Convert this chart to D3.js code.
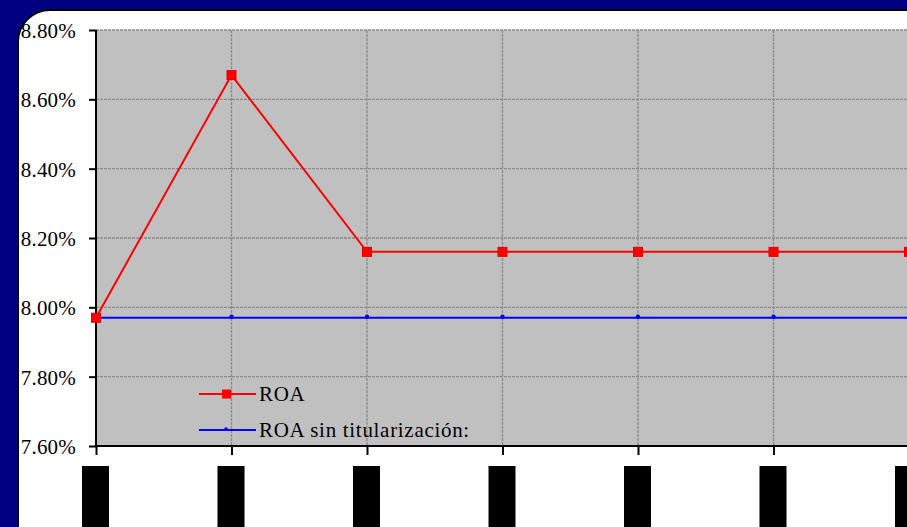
<!DOCTYPE html>
<html>
<head>
<meta charset="utf-8">
<script src="https://cdn.jsdelivr.net/npm/d3@7"></script>
<style>
  html, body { margin: 0; padding: 0; background: #000080; }
  svg { display: block; }
</style>
</head>
<body>
<svg id="chart" width="907" height="527"></svg>
<script>
// Periods along the horizontal axis (labels are drawn as solid blocks)
const periods = ["P1", "P2", "P3", "P4", "P5", "P6", "P7"];
// Return on assets, in percent
const roa = [7.97, 8.67, 8.16, 8.16, 8.16, 8.16, 8.16];
const roaSinTitularizacion = [7.97, 7.97, 7.97, 7.97, 7.97, 7.97, 7.97];
const yTicks = [7.60, 7.80, 8.00, 8.20, 8.40, 8.60, 8.80];
const seriesNames = ["ROA", "ROA sin titularización:"];

const svg = d3.select("#chart");
const W = 907, H = 527;
const serif = "'Liberation Serif', 'Times New Roman', serif";

// background panel
svg.append("rect").attr("width", W).attr("height", H).attr("fill", "#000080");
svg.append("rect")
  .attr("x", 18).attr("y", 10).attr("width", 930).attr("height", 560)
  .attr("rx", 32).attr("ry", 32)
  .attr("fill", "#ffffff").attr("stroke", "#000").attr("stroke-width", 2);

const plot = { left: 96, top: 30, right: 909, bottom: 446 };

const x = d3.scalePoint().domain(periods).range([plot.left, plot.right]).padding(0);
const y = d3.scaleLinear().domain([7.6, 8.8]).range([plot.bottom, plot.top]);

// plot area
svg.append("rect")
  .attr("x", plot.left).attr("y", plot.top)
  .attr("width", plot.right - plot.left + 20).attr("height", plot.bottom - plot.top)
  .attr("fill", "#c0c0c0");

// horizontal grid
svg.append("g").selectAll("line").data(yTicks.slice(1)).join("line")
  .attr("x1", plot.left).attr("x2", W)
  .attr("y1", d => y(d)).attr("y2", d => y(d))
  .attr("stroke", "#8a8a8a").attr("stroke-width", 1.3)
  .attr("stroke-dasharray", "3,1");

// vertical grid
svg.append("g").selectAll("line").data(periods.slice(1)).join("line")
  .attr("x1", d => x(d)).attr("x2", d => x(d))
  .attr("y1", plot.top).attr("y2", plot.bottom)
  .attr("stroke", "#8a8a8a").attr("stroke-width", 1.3)
  .attr("stroke-dasharray", "3,1");

// y axis
const yAxis = d3.axisLeft(y).tickValues(yTicks)
  .tickFormat(d => d.toFixed(2) + "%").tickSize(7).tickPadding(13);
const gy = svg.append("g").attr("transform", `translate(${plot.left},0)`).call(yAxis);
gy.select(".domain").attr("stroke", "#000").attr("stroke-width", 2)
  .attr("d", `M0,${plot.top}V${plot.bottom + 1}`);
gy.selectAll(".tick line").attr("stroke", "#000").attr("stroke-width", 2);
gy.selectAll(".tick text")
  .attr("font-family", serif)
  .attr("font-size", 21).attr("letter-spacing", 0.2)
  .attr("fill", "#000").attr("dy", "0.35em");

// x axis
const xAxis = d3.axisBottom(x).tickSize(9).tickFormat("");
const gx = svg.append("g").attr("transform", `translate(0,${plot.bottom})`).call(xAxis);
gx.select(".domain").attr("stroke", "#000").attr("stroke-width", 2)
  .attr("d", `M${plot.left},0H${W}`);
gx.selectAll(".tick line").attr("stroke", "#000").attr("stroke-width", 2);

// category label blocks
svg.append("g").selectAll("rect").data(periods).join("rect")
  .attr("x", d => x(d) - 14).attr("y", 466)
  .attr("width", 27).attr("height", 62)
  .attr("fill", "#000");

// lines
const line = d3.line().x((d, i) => x(periods[i])).y(d => y(d));

svg.append("path").datum(roaSinTitularizacion)
  .attr("d", line).attr("fill", "none").attr("stroke", "#0000ff").attr("stroke-width", 2);
svg.append("g").selectAll("circle").data(roaSinTitularizacion).join("circle")
  .attr("cx", (d, i) => x(periods[i])).attr("cy", d => y(d) - 1).attr("r", 2.2)
  .attr("fill", "#0000ff");

svg.append("path").datum(roa)
  .attr("d", line).attr("fill", "none").attr("stroke", "#ff0000").attr("stroke-width", 2);
svg.append("g").selectAll("rect").data(roa).join("rect")
  .attr("x", (d, i) => x(periods[i]) - 4.5).attr("y", d => y(d) - 4.5)
  .attr("width", 9).attr("height", 9)
  .attr("fill", "#ff0000").attr("stroke", "#e00000").attr("stroke-width", 1);

// legend
const legend = svg.append("g");
const legendRows = [
  { name: seriesNames[0], color: "#ff0000", y: 394, marker: "square" },
  { name: seriesNames[1], color: "#0000ff", y: 430, marker: "dot" }
];
legendRows.forEach(r => {
  legend.append("line").attr("x1", 199).attr("x2", 256)
    .attr("y1", r.y).attr("y2", r.y)
    .attr("stroke", r.color).attr("stroke-width", 2);
  if (r.marker === "square") {
    legend.append("rect").attr("x", 222).attr("y", r.y - 4.5)
      .attr("width", 9).attr("height", 9).attr("fill", r.color);
  } else {
    legend.append("circle").attr("cx", 226).attr("cy", r.y - 1).attr("r", 1.8).attr("fill", r.color);
  }
  legend.append("text").attr("x", 259).attr("y", r.y + 7)
    .attr("font-family", serif)
    .attr("font-size", 21).attr("letter-spacing", 0.7).attr("fill", "#000")
    .text(r.name);
});
</script>
</body>
</html>
